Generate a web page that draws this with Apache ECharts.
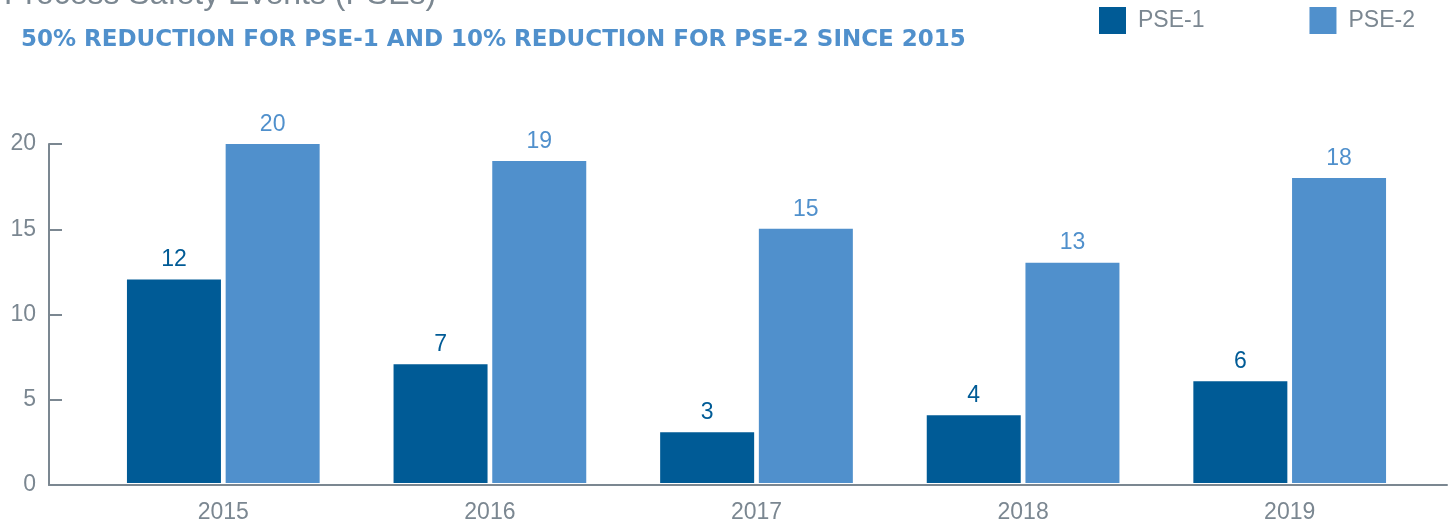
<!DOCTYPE html>
<html>
<head>
<meta charset="utf-8">
<script src="https://cdn.jsdelivr.net/npm/echarts@6/dist/echarts.min.js"></script>
<style>
  html, body { margin: 0; padding: 0; background: #fff; }
  #chart { width: 1450px; height: 524px; }
</style>
</head>
<body>
<div id="chart"></div>
<script>
var years = ['2015', '2016', '2017', '2018', '2019'];
var pse1 = [12, 7, 3, 4, 6];
var pse2 = [20, 19, 15, 13, 18];
var yTicks = { min: 0, max: 20, interval: 5 };

const darkBlue = '#005b96';
const lightBlue = '#5090cc';
const grey = '#7b8791';
const font = '"Liberation Sans", Arial, Helvetica, sans-serif';

const option = () => {
    return {
        animation: false,
        textStyle: { fontFamily: font },
        title: [
            {
                text: 'Process Safety Events (PSEs)',
                left: 4,
                top: -21,
                padding: 0,
                textStyle: { fontSize: 32, fontWeight: 'normal', color: grey, fontFamily: font }
            },
            {
                // wider face stands in for the letter-spaced caps of the original
                text: '50% REDUCTION FOR PSE-1 AND 10% REDUCTION FOR PSE-2 SINCE 2015',
                left: 21,
                top: 29,
                padding: 0,
                textStyle: { fontSize: 23, fontWeight: 'bold', color: lightBlue, fontFamily: '"DejaVu Sans", sans-serif' }
            }
        ],
        legend: {
            left: 1099,
            top: 7,
            padding: 0,
            icon: 'rect',
            itemWidth: 27,
            itemHeight: 27,
            itemGap: 105,
            textStyle: { fontSize: 23, color: grey, padding: [6, 0, 0, 7], fontFamily: font },
            data: ['PSE-1', 'PSE-2']
        },
        grid: [
            { left: 49, right: 3, top: 144, bottom: 39 },
            { left: 90, right: 27, top: 144, bottom: 39 }
        ],
        xAxis: [
            {
                gridIndex: 0,
                type: 'value',
                min: 0,
                max: 1,
                axisLine: { show: true, lineStyle: { color: grey, width: 2 } },
                axisTick: { show: false },
                axisLabel: { show: false },
                splitLine: { show: false }
            },
            {
                gridIndex: 1,
                type: 'category',
                data: years,
                axisLine: { show: false },
                axisTick: { show: false },
                axisLabel: { fontSize: 23, color: grey, margin: 18, fontFamily: font }
            }
        ],
        yAxis: [
            {
                gridIndex: 0,
                type: 'value',
                min: yTicks.min,
                max: yTicks.max,
                interval: yTicks.interval,
                axisLine: { show: true, lineStyle: { color: grey, width: 2 } },
                axisTick: { show: true, inside: true, length: 13, lineStyle: { color: grey, width: 2 } },
                axisLabel: { fontSize: 23, color: grey, margin: 13, padding: [6, 0, 0, 0], fontFamily: font },
                splitLine: { show: false }
            },
            {
                gridIndex: 1,
                type: 'value',
                min: yTicks.min,
                max: yTicks.max,
                show: false
            }
        ],
        series: [
            {
                name: 'PSE-1',
                type: 'bar',
                xAxisIndex: 1,
                yAxisIndex: 1,
                data: pse1,
                barWidth: 94,
                barGap: '5%',
                itemStyle: { color: darkBlue },
                label: { show: true, position: 'top', distance: 8, fontSize: 23, color: darkBlue, fontFamily: font }
            },
            {
                name: 'PSE-2',
                type: 'bar',
                xAxisIndex: 1,
                yAxisIndex: 1,
                data: pse2,
                barWidth: 94,
                barGap: '5%',
                itemStyle: { color: lightBlue },
                label: { show: true, position: 'top', distance: 8, fontSize: 23, color: lightBlue, fontFamily: font }
            }
        ]
    };
};

window.addEventListener('load', () => {
    const chart = echarts.init(document.getElementById('chart'));
    chart.setOption(option());
});
</script>
</body>
</html>
